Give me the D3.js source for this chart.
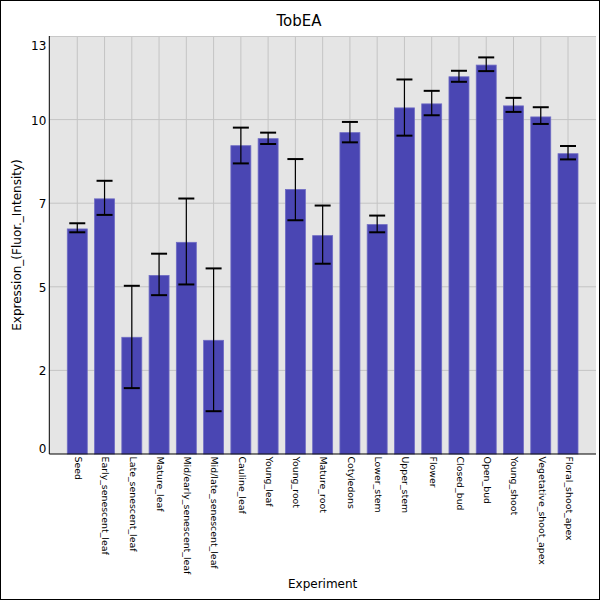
<!DOCTYPE html>
<html>
<head>
    <meta charset="utf-8">
    <title>TobEA</title>
    <script src="https://cdn.jsdelivr.net/npm/d3@7"></script>
    <style>
        body { margin: 0; background: #fff; }
        svg text { font-family: "DejaVu Sans", sans-serif; fill: #000; }
    </style>
</head>
<body>
<div id="chart"></div>
<script type="text/javascript">
    // values
    var categories = ["Seed", "Early_senescent_leaf", "Late_senescent_leaf", "Mature_leaf",
        "Mid/early_senescent_leaf", "Mid/late_senescent_leaf", "Cauline_leaf", "Young_leaf",
        "Young_root", "Mature_root", "Cotyledons", "Lower_stem", "Upper_stem", "Flower",
        "Closed_bud", "Open_bud", "Young_shoot", "Vegetative_shoot_apex", "Floral_shoot_apex"];
    var means   = [6.73, 7.63, 3.49, 5.34, 6.33, 3.40, 9.22, 9.43, 7.91, 6.53, 9.61, 6.86, 10.35, 10.47, 11.28, 11.63, 10.41, 10.08, 8.98];
    var errLow  = [6.63, 7.15, 1.97, 4.75, 5.07, 1.28, 8.69, 9.27, 6.99, 5.69, 9.32, 6.63, 9.52, 10.13, 11.13, 11.45, 10.23, 9.87, 8.81];
    var errHigh = [6.90, 8.17, 5.03, 5.99, 7.64, 5.55, 9.76, 9.61, 8.82, 7.43, 9.93, 7.13, 11.20, 10.86, 11.46, 11.86, 10.65, 10.37, 9.21];
    var yTicks = [0, 2.5, 5, 7.5, 10, 12.5];
    var yTickLabels = ["0", "2", "5", "7", "10", "13"];
    var yMax = 12.5;

    var W = 600, H = 600,
        plot = {left: 49.3, right: 596, top: 36, bottom: 454};

    var svg = d3.select("#chart").append("svg").attr("width", W).attr("height", H);

    var x = d3.scaleBand().domain(categories).range([plot.left, plot.right])
        .paddingInner(0.267).paddingOuter(0.66);
    var y = d3.scaleLinear().domain([0, yMax]).range([plot.bottom, plot.top]);

    // plot background
    svg.append("rect").attr("x", plot.left).attr("y", plot.top)
        .attr("width", plot.right - plot.left).attr("height", plot.bottom - plot.top)
        .style("fill", "#e5e5e5");

    // grid
    var grid = svg.append("g");
    grid.selectAll(".hgrid").data(yTicks.filter(function (v) { return v > 0 && v < yMax; }))
        .enter().append("line")
        .attr("x1", plot.left).attr("x2", plot.right)
        .attr("y1", function (v) { return y(v); }).attr("y2", function (v) { return y(v); })
        .style("stroke", "#c4c4c4").style("stroke-width", 1);
    grid.selectAll(".vgrid").data(categories).enter().append("line")
        .attr("x1", function (c) { return x(c) + x.bandwidth() / 2; })
        .attr("x2", function (c) { return x(c) + x.bandwidth() / 2; })
        .attr("y1", plot.top).attr("y2", plot.bottom)
        .style("stroke", "#c4c4c4").style("stroke-width", 1);
    grid.append("line").attr("x1", plot.left).attr("x2", plot.right)
        .attr("y1", plot.top + 0.5).attr("y2", plot.top + 0.5)
        .style("stroke", "#c8c8c8");

    // bars
    svg.append("g").selectAll("rect").data(categories).enter().append("rect")
        .attr("x", function (c) { return x(c); })
        .attr("width", x.bandwidth())
        .attr("y", function (c, i) { return y(means[i]); })
        .attr("height", function (c, i) { return y(0) - y(means[i]); })
        .style("fill", "#4a46b3")
        .style("stroke", "#6f6cc4").style("stroke-width", 0.8);

    // error bars
    var eb = svg.append("g").selectAll("g").data(categories).enter().append("g");
    eb.append("line")
        .attr("x1", function (c) { return x(c) + x.bandwidth() / 2; })
        .attr("x2", function (c) { return x(c) + x.bandwidth() / 2; })
        .attr("y1", function (c, i) { return y(errLow[i]); })
        .attr("y2", function (c, i) { return y(errHigh[i]); })
        .style("stroke", "#000").style("stroke-width", 1.2);
    [errLow, errHigh].forEach(function (arr) {
        eb.append("line")
            .attr("x1", function (c) { return x(c) + x.bandwidth() / 2 - 8; })
            .attr("x2", function (c) { return x(c) + x.bandwidth() / 2 + 8; })
            .attr("y1", function (c, i) { return y(arr[i]); })
            .attr("y2", function (c, i) { return y(arr[i]); })
            .style("stroke", "#000").style("stroke-width", 2);
    });

    // y axis
    var yAxis = svg.append("g").attr("transform", "translate(" + plot.left + ",0)")
        .call(d3.axisLeft(y).tickValues(yTicks).tickSize(0).tickPadding(3)
            .tickFormat(function (v, i) { return yTickLabels[i]; }));
    yAxis.select(".domain").remove();
    yAxis.selectAll("text").style("font-size", "12px")
        .attr("dy", null).attr("y", 4.4)
        .attr("transform", function (v) {
            // end labels are pushed inside the plot box
            var p = y(v), b = Math.min(Math.max(p + 4.4, plot.top + 13.4), plot.bottom - 2);
            return "translate(0," + (b - p - 4.4) + ")";
        });
    svg.append("line").attr("x1", plot.left).attr("x2", plot.left)
        .attr("y1", plot.top).attr("y2", plot.bottom).style("stroke", "#000");

    // x axis
    var xAxis = svg.append("g").attr("transform", "translate(0," + plot.bottom + ")")
        .call(d3.axisBottom(x).tickSize(0).tickPadding(0));
    xAxis.select(".domain").remove();
    xAxis.selectAll("text").style("font-size", "9.4px")
        .attr("text-anchor", "start").attr("dy", null).attr("y", 0)
        .attr("transform", "translate(-2.2,2.5) rotate(90)");
    svg.append("line").attr("x1", plot.left).attr("x2", plot.right)
        .attr("y1", plot.bottom).attr("y2", plot.bottom).style("stroke", "#000");

    // titles
    svg.append("text").attr("x", 299).attr("y", 26).attr("text-anchor", "middle")
        .style("font-size", "15px").text("TobEA");
    svg.append("text").attr("x", (plot.left + plot.right) / 2).attr("y", 588)
        .attr("text-anchor", "middle").style("font-size", "12px").text("Experiment");
    svg.append("text").attr("transform", "translate(21," + (plot.top + plot.bottom) / 2 + ") rotate(-90)")
        .attr("text-anchor", "middle").style("font-size", "12px").text("Expression_(Fluor._Intensity)");

    // outer frame
    svg.append("rect").attr("x", 0.5).attr("y", 0.5).attr("width", W - 1).attr("height", H - 1)
        .style("fill", "none").style("stroke", "#000");
</script>
</body>
</html>
